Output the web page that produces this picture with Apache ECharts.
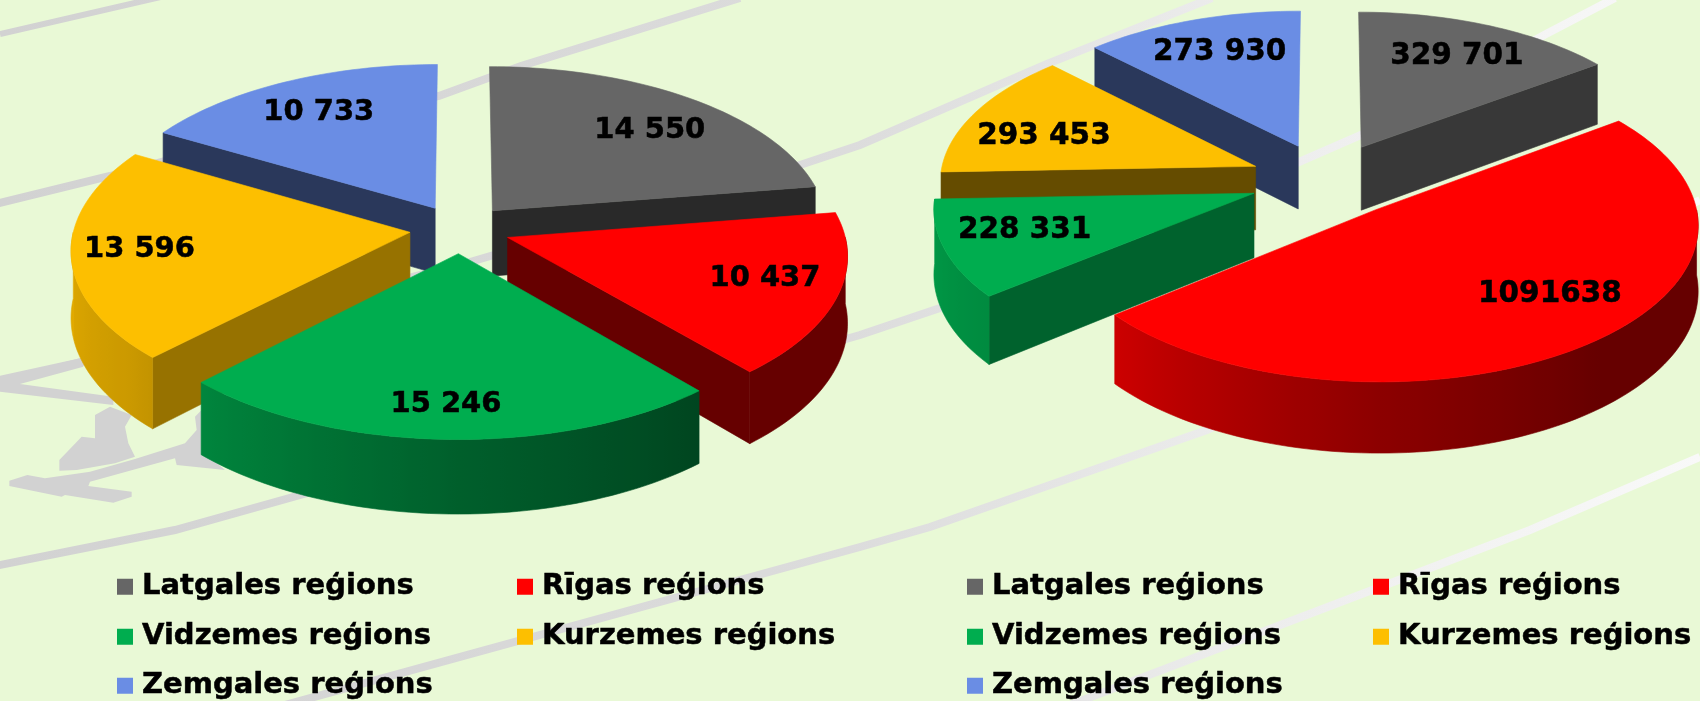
<!DOCTYPE html>
<html>
<head>
<meta charset="utf-8">
<style>
  html, body { margin: 0; padding: 0; background: #e9f9d6; }
  #chart { width: 1700px; height: 701px; }
</style>
<script src="https://cdn.jsdelivr.net/npm/echarts@6/dist/echarts.min.js"></script>
</head>
<body>
<div id="chart"></div>
<script>
const regions = ['Latgales reģions', 'Rīgas reģions', 'Vidzemes reģions', 'Kurzemes reģions', 'Zemgales reģions'];
const leftValues = [14550, 10437, 15246, 13596, 10733];
const rightValues = [329701, 1091638, 228331, 293453, 273930];
const leftLabels = ['14 550', '10 437', '15 246', '13 596', '10 733'];
const rightLabels = ['329 701', '1091638', '228 331', '293 453', '273 930'];
const colors = [[102, 102, 102], [255, 0, 0], [0, 173, 79], [253, 191, 0], [106, 141, 228]];

// hand fitted fake 3d: centre, radius, tilt, perspective, explode, thickness
// nudge = label shift per slice, Excel does not keep them on the bisector
const leftPie = {
  cx: 460, cy: 229, f: 336, g: 162, k: 0.1, d: 0.15, t: 66, labelR: 0.78, font: 29,
  nudge: [[0, 8], [2, -4], [-3, 9], [-7, 0], [3, 4]]
};
const rightPie = {
  cx: 1327, cy: 180, f: 316, g: 152, k: 0.085, d: 0.245, t: 64, labelR: 0.76, font: 29.5,
  nudge: [[-3, 3], [14, -15], [4, -5], [3, 11], [4, 3]]
};

const rad = a => a * Math.PI / 180;

function shadeColor(c, s) {
  return 'rgb(' + c.map(v => Math.round(v * s)).join(',') + ')';
}

// outer rim gets lighter towards the left
function rimShade(a) {
  if (a <= 140) return 0.4;
  if (a <= 180) return 0.4 + (a - 140) / 40 * 0.15;
  if (a <= 230) return 0.55 + (a - 180) / 50 * 0.25;
  if (a <= 270) return 0.8 + (a - 230) / 40 * 0.1;
  return 0.9;
}

// flat walls, by the direction the wall is facing
function wallShade(n) {
  n = (n + 360) % 360;
  if (n <= 134) return 0.6;
  if (n <= 171) return 0.6 - (n - 134) / 37 * 0.18;
  return 0.4;
}

function project(pie, bis, a, r, h) {
  const X = Math.sin(rad(a)) * r + Math.sin(rad(bis)) * pie.d;
  const Y = Math.cos(rad(a)) * r + Math.cos(rad(bis)) * pie.d;
  const w = 1 + pie.k * Y;
  return [pie.cx + pie.f * X / w, pie.cy - pie.g * Y / w + h * pie.t / w];
}

function poly(points, fill) {
  return { type: 'polygon', shape: { points: points }, style: { fill: fill, stroke: fill, lineWidth: 0.6 } };
}

function wall(pie, bis, a, normal, c) {
  if (Math.cos(rad(normal)) > -0.001) return null;
  return poly([
    project(pie, bis, a, 0, 0),
    project(pie, bis, a, 1, 0),
    project(pie, bis, a, 1, 1),
    project(pie, bis, a, 0, 1)
  ], shadeColor(c, wallShade(normal)));
}

// front facing part of the rim, one polygon with a left-right gradient
function rim(pie, s, c) {
  const from = Math.max(s.start, 90);
  const to = Math.min(s.end, 270);
  if (to <= from) return null;
  const upper = [], lower = [], angles = [];
  for (let a = from; a < to; a += 1.5) angles.push(a);
  angles.push(to);
  angles.forEach(a => {
    upper.push(project(pie, s.bis, a, 1, 0));
    lower.push(project(pie, s.bis, a, 1, 1));
  });
  const xs = upper.map(p => p[0]);
  const x0 = Math.min.apply(null, xs);
  const x1 = Math.max.apply(null, xs);
  if (x1 - x0 < 1) return null;
  const stops = angles.map((a, i) => ({
    offset: (xs[i] - x0) / (x1 - x0),
    color: shadeColor(c, rimShade(a))
  })).sort((p, q) => p.offset - q.offset);
  const grad = new echarts.graphic.LinearGradient(x0, 0, x1, 0, stops, true);
  return poly(upper.concat(lower.reverse()), grad);
}

function sliceSeries(pie, values, labels) {
  const total = values.reduce((s, v) => s + v, 0);
  let start = 0;
  const slices = values.map((v, i) => {
    const end = start + v / total * 360;
    const s = { i: i, start: start, end: end, bis: (start + end) / 2 };
    start = end;
    return s;
  });
  // back slices first so the near ones paint over them
  slices.sort((a, b) => Math.cos(rad(b.bis)) - Math.cos(rad(a.bis)));

  return slices.map((s, order) => ({
    type: 'custom',
    name: regions[s.i],
    coordinateSystem: 'none',
    silent: true,
    z: 3 + order,
    itemStyle: { color: shadeColor(colors[s.i], 1) },
    data: [[values[s.i]]],
    renderItem: function () {
      const c = colors[s.i];
      const kids = [];
      const w1 = wall(pie, s.bis, s.start, s.start - 90, c);
      const w2 = wall(pie, s.bis, s.end, s.end + 90, c);
      const r = rim(pie, s, c);
      if (w1) kids.push(w1);
      if (w2) kids.push(w2);
      if (r) kids.push(r);

      const top = [project(pie, s.bis, s.start, 0, 0)];
      for (let a = s.start; a < s.end; a += 1.5) top.push(project(pie, s.bis, a, 1, 0));
      top.push(project(pie, s.bis, s.end, 1, 0));
      kids.push(poly(top, shadeColor(c, 1)));

      const lp = project(pie, s.bis, s.bis, pie.labelR, 0);
      kids.push({
        type: 'text',
        z2: 50,
        style: {
          text: labels[s.i],
          x: lp[0] + pie.nudge[s.i][0],
          y: lp[1] + pie.nudge[s.i][1],
          textAlign: 'center',
          textVerticalAlign: 'middle',
          fill: '#000',
          stroke: '#000',
          lineWidth: 0.5,
          fontFamily: 'DejaVu Sans',
          fontWeight: 'bold',
          fontSize: pie.font
        }
      });
      return { type: 'group', children: kids };
    }
  }));
}

// legend: one component per entry, Excel lays them out as a grid
function legendItem(name, left, top) {
  return {
    left: left,
    top: top,
    data: [name],
    icon: 'rect',
    itemWidth: 16,
    itemHeight: 16,
    selectedMode: false,
    padding: 0,
    textStyle: {
      color: '#000', fontFamily: 'DejaVu Sans', fontWeight: 'bold', fontSize: 29,
      textBorderColor: '#000', textBorderWidth: 0.5, padding: [0, 0, 0, 4]
    }
  };
}

const legendCols = [[117, 517], [967, 1373]];
const legendRows = [572, 622, 671];
const legends = [];
legendCols.forEach(cols => {
  regions.forEach((r, i) => {
    legends.push(legendItem(r, cols[i % 2], legendRows[Math.floor(i / 2)]));
  });
});

// background road lines and the cyclist behind the left pie, just decoration
const roadGrad = new echarts.graphic.LinearGradient(0, 0, 1700, 0, [
  { offset: 0, color: '#d2d2d2' },
  { offset: 0.5, color: '#dcdcdc' },
  { offset: 0.72, color: '#ececec' },
  { offset: 1, color: '#f9f9f9' }
], true);

function road(points, width) {
  return { type: 'polyline', z: 1, silent: true, shape: { points: points }, style: { stroke: roadGrad, lineWidth: width, fill: null } };
}

function rider(points) {
  return {
    type: 'polygon', z: 1, silent: true,
    shape: { points: points.map(p => [p[0] / 3, 360 + p[1] / 3]) },
    style: { fill: '#d2d2d2' }
  };
}

const decor = [
  road([[0, 34], [165, -4]], 6),
  road([[-5, 204], [110, 176], [300, 124], [439, 96], [521, 66], [740, -2]], 8),
  road([[-5, 381], [82, 362], [470, 262], [800, 165], [860, 145], [1047, 64], [1212, -2]], 8),
  road([[-5, 566], [175, 530], [318, 490], [860, 335], [940, 308], [1299, 162], [1361, 135], [1546, 34], [1615, -2]], 8),
  road([[285, 705], [860, 547], [930, 527], [1050, 485], [1207, 430], [1700, 200]], 8),
  road([[1070, 705], [1530, 530], [1700, 457]], 8),
  rider([[0, 55], [240, -5], [250, 20], [60, 72], [340, 110], [340, 135], [0, 95]]),
  rider([[285, 165], [330, 140], [395, 165], [375, 200], [385, 250], [405, 290], [345, 310], [230, 330], [178, 332], [178, 300], [245, 230], [285, 235]]),
  rider([[135, 355], [270, 335], [405, 297], [555, 250], [590, 210], [585, 170], [610, 145], [640, 300], [675, 330], [530, 315], [525, 295], [270, 365], [265, 378], [395, 395], [395, 410], [340, 428], [195, 405], [185, 410], [28, 378], [28, 362], [82, 345]])
];

const chart = echarts.init(document.getElementById('chart'));
chart.setOption({
  animation: false,
  backgroundColor: '#e9f9d6',
  graphic: { elements: decor },
  legend: legends,
  series: sliceSeries(leftPie, leftValues, leftLabels).concat(sliceSeries(rightPie, rightValues, rightLabels))
});
</script>
</body>
</html>
